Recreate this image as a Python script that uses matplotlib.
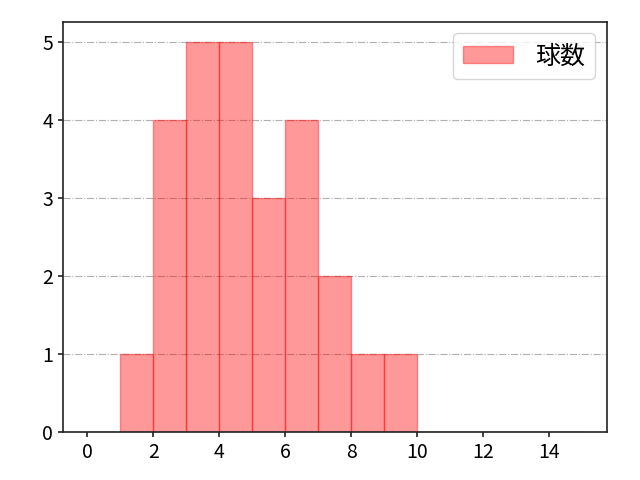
import matplotlib
matplotlib.use("Agg")
import matplotlib.pyplot as plt

plt.rcParams['font.family'] = ['Noto Sans CJK JP', 'DejaVu Sans']

bin_edges = [0, 1, 2, 3, 4, 5, 6, 7, 8, 9, 10, 11, 12, 13, 14, 15]
counts = [0, 1, 4, 5, 5, 3, 4, 2, 1, 1, 0, 0, 0, 0, 0]
label = "球数"

fig, ax = plt.subplots(figsize=(6.4, 4.8), dpi=100)
fig.subplots_adjust(left=0.098, right=0.948, top=0.954, bottom=0.1)
ax.hist(bin_edges[:-1], bins=bin_edges, weights=counts, color='red', alpha=0.4,
        edgecolor='red', label=label)
ax.grid(axis='y', linestyle='-.', color='#b0b0b0')
ax.set_axisbelow(True)
ax.set_xticks([0, 2, 4, 6, 8, 10, 12, 14])
ax.tick_params(labelsize=14, width=1.2, colors='#222222', labelcolor='black')
for s in ax.spines.values():
    s.set_linewidth(1.2)
    s.set_color('#222222')
ax.legend(loc='upper right', fontsize=18, handletextpad=0.9, borderaxespad=0.45)
fig.savefig('out.png')
